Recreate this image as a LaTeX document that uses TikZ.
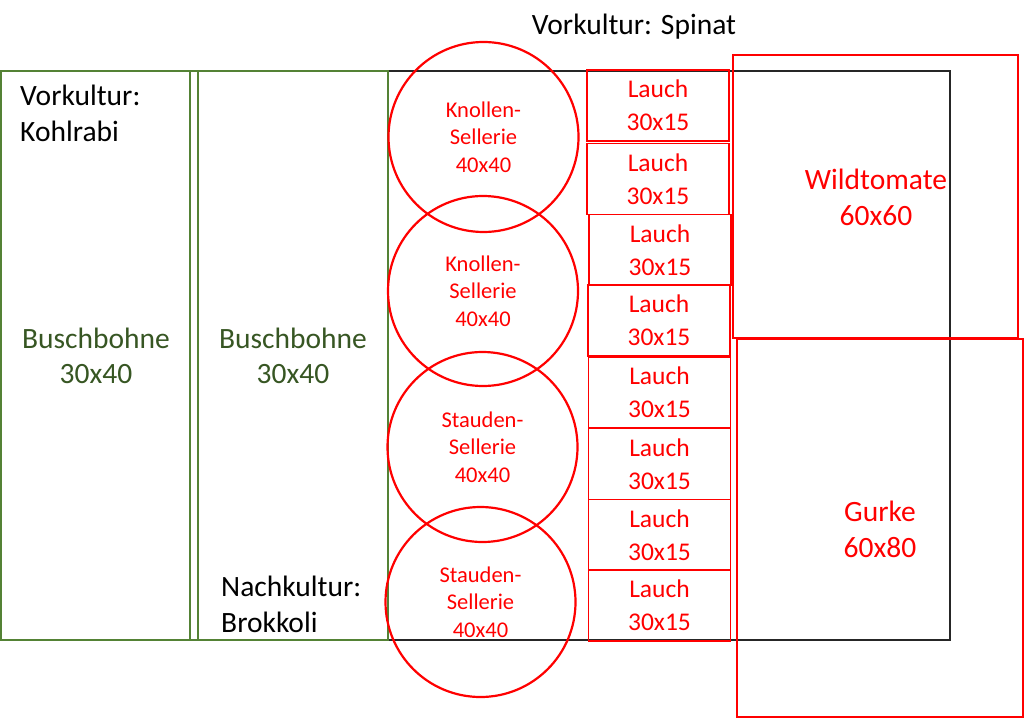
\documentclass[tikz,border=0pt]{standalone}
\usepackage{fontspec}
\setmainfont{Carlito}
\definecolor{beetgreen}{HTML}{548235}
\definecolor{beettext}{HTML}{375623}
\definecolor{plantred}{HTML}{FF0000}

\newcommand{\bigtext}{\fontsize{29.5}{35.5}\selectfont}
\newcommand{\midtext}{\fontsize{25.5}{33}\selectfont}
\newcommand{\smalltext}{\fontsize{22.5}{27.5}\selectfont}

\begin{document}
\begin{tikzpicture}[x=1pt,y=-1pt,
		bed/.style={draw=beetgreen,line width=1.3pt},
		label/.style={font=\bigtext,inner sep=0pt},
		lauch/.style={draw=plantred,line width=1.8pt,rectangle,inner sep=0pt,minimum width=142pt,minimum height=71pt,text=plantred,align=center,font=\midtext},
		sellerie/.style={draw=plantred,line width=2.2pt,circle,inner sep=0pt,minimum size=190pt,text=plantred,align=center,font=\smalltext},
		bigbed/.style={draw=plantred,line width=1.3pt}]
		\useasboundingbox (0,0) rectangle (1024,719);
		% beds
		\draw[line width=1.5pt,black!85] (190,71) rectangle (950,640);
		\draw[bed] (1,71) rectangle (190,640);
		\draw[bed] (190,71) rectangle (198,640);
		\draw[bed] (198,71) rectangle (388,640);
		\node[label] (VS) at (634,27) {Vorkultur: Spinat};
		\node[label,align=left,anchor=west] (VK) at (20,113.5) {Vorkultur:\\Kohlrabi};
		\node[label,align=center,text=beettext] (BB1) at (96,356) {Buschbohne\\30x40};
		\node[label,align=center,text=beettext] (BB2) at (293,356) {Buschbohne\\30x40};
		\node[label,align=left,anchor=west] (NB) at (221,604.5) {Nachkultur:\\Brokkoli};
		% sellerie
		\node[sellerie] (S1) at (483.5,137) {Knollen-\\Sellerie\\40x40};
		\node[sellerie] (S2) at (483,291) {Knollen-\\Sellerie\\40x40};
		\node[sellerie] (S3) at (482.5,447) {Stauden-\\Sellerie\\40x40};
		\node[sellerie] (S4) at (480.5,602) {Stauden-\\Sellerie\\40x40};
		% lauch
		\node[lauch] (L1) at (658,105.5) {Lauch\\30x15};
		\node[lauch] (L2) at (658,179) {Lauch\\30x15};
		\node[lauch] (L3) at (660,250) {Lauch\\30x15};
		\node[lauch] (L4) at (659,320.5) {Lauch\\30x15};
		\node[lauch] (L5) at (659.5,392.5) {Lauch\\30x15};
		\node[lauch] (L6) at (659.5,464) {Lauch\\30x15};
		\node[lauch] (L7) at (659.5,535) {Lauch\\30x15};
		\node[lauch] (L8) at (659.5,605.5) {Lauch\\30x15};
		% tomate, gurke
		\draw[bigbed] (733,55) rectangle (1018,338);
		\draw[bigbed] (737,339) rectangle (1023,717);
		\node[label,align=center,text=plantred] (WT) at (876,197.5) {Wildtomate\\60x60};
		\node[label,align=center,text=plantred] (GU) at (880,529.5) {Gurke\\60x80};
	\end{tikzpicture}
\end{document}
